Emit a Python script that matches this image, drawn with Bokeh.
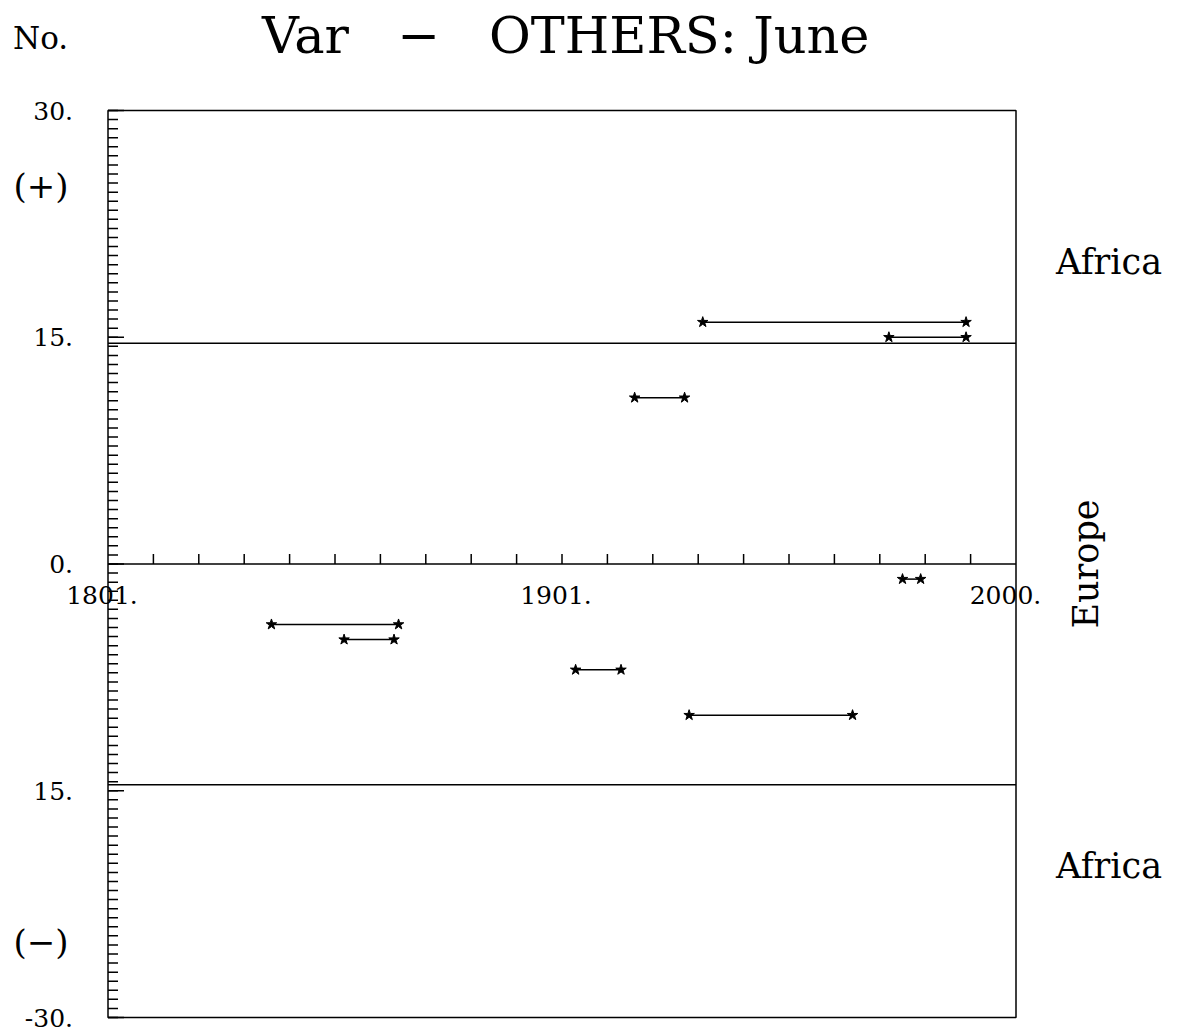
import numpy as np
from bokeh.plotting import figure
from bokeh.models import Range1d, Label, LabelSet, ColumnDataSource
from bokeh.core.properties import value
from bokeh.embed import file_html
from bokeh.resources import INLINE

# ---- data ----
seg_value = [16, 15, 11, -1, -4, -5, -7, -10]
seg_start = [1932, 1973, 1917, 1976, 1837, 1853, 1904, 1929]
seg_end = [1990, 1990, 1928, 1980, 1865, 1864, 1914, 1965]

year_first, year_last = 1801, 2001
x_tick_years = list(range(1811, 2000, 10))
x_label_years = [1801, 1901, 2000]
x_label_text = ["1801.", "1901.", "2000."]

y_low, y_high = -30, 30
y_ticks = [-30, -15, 0, 15, 30]
y_tick_labels = ["-30.", "15.", "0.", "15.", "30."]
y_minor_step = 0.6

boundary_values = [14.6, -14.6]
region_africa_values = [20, -20]
sign_labels = ["(+)", "(\u2212)"]
sign_values = [25, -25]

NB = "\u00a0"
title_text = "Var" + NB * 3 + "\u2212" + NB * 3 + "OTHERS: June"
unit_text = "No."

SERIF = "DejaVu Serif"

# ---- layout: plot box position in canvas pixels ----
W, H = 1170, 1032
BOX_L, BOX_R, BOX_T, BOX_B = 107.5, 1015.5, 110.0, 1017.0
ppx = (BOX_R - BOX_L) / (year_last - year_first)
ppy = (BOX_B - BOX_T) / (y_high - y_low)
x_range = Range1d(year_first - BOX_L / ppx, year_last + (W - BOX_R) / ppx)
y_range = Range1d(y_low - (H - BOX_B) / ppy, y_high + BOX_T / ppy)

p = figure(width=W, height=H, output_backend="svg", toolbar_location=None,
           x_range=x_range, y_range=y_range, x_axis_location=None, y_axis_location=None,
           title=None, min_border=0)
p.background_fill_color = "white"
p.border_fill_color = "white"
p.outline_line_color = None
p.grid.visible = False

BLACK = "black"
LW = 1.5

# plot box
p.quad(left=[year_first], right=[year_last], bottom=[y_low], top=[y_high],
       fill_color=None, line_color=BLACK, line_width=LW)

# y axis ticks (inside) and labels
minor = list(np.round(np.arange(y_low, y_high + 1e-9, y_minor_step), 3))
p.ray(x=[year_first] * len(minor), y=minor, length=10, length_units="screen",
      angle=0, line_color=BLACK, line_width=LW)
p.ray(x=[year_first] * len(y_ticks), y=y_ticks, length=16, length_units="screen",
      angle=0, line_color=BLACK, line_width=LW)
yl_src = ColumnDataSource(dict(x=[year_first] * len(y_ticks), y=y_ticks, text=y_tick_labels))
p.add_layout(LabelSet(x="x", y="y", text="text", source=yl_src, x_offset=-35,
                      text_align="right", text_baseline="middle",
                      text_font=value(SERIF), text_font_size="25px", text_color=BLACK))

# x axis along y = 0
p.segment(x0=[year_first], y0=[0], x1=[year_last], y1=[0], line_color=BLACK, line_width=LW)
p.ray(x=x_tick_years, y=[0] * len(x_tick_years), length=10, length_units="screen",
      angle=90, angle_units="deg", line_color=BLACK, line_width=LW)
xl_src = ColumnDataSource(dict(x=x_label_years, y=[0] * len(x_label_years), text=x_label_text))
p.add_layout(LabelSet(x="x", y="y", text="text", source=xl_src, x_offset=-6, y_offset=-22,
                      text_align="center", text_baseline="top",
                      text_font=value(SERIF), text_font_size="25px", text_color=BLACK))

# boundary lines
p.segment(x0=[year_first] * len(boundary_values), y0=boundary_values,
          x1=[year_last] * len(boundary_values), y1=boundary_values,
          line_color=BLACK, line_width=LW)

# segments with star ends
p.segment(x0=seg_start, y0=seg_value, x1=seg_end, y1=seg_value, line_color=BLACK, line_width=LW)
p.scatter(x=seg_start + seg_end, y=seg_value + seg_value, marker="star", size=11,
          fill_color=BLACK, line_color=BLACK)

# side labels
for v in region_africa_values:
    p.add_layout(Label(x=year_last, y=v, x_offset=40, text="Africa", text_align="left",
                       text_baseline="middle", text_font=SERIF, text_font_size="35px",
                       text_color=BLACK))
p.add_layout(Label(x=year_last, y=0, x_offset=70, text="Europe", angle=90, angle_units="deg",
                   text_align="center", text_baseline="middle", text_font=SERIF,
                   text_font_size="35px", text_color=BLACK))
for s, v in zip(sign_labels, sign_values):
    p.add_layout(Label(x=year_first, y=v, x_offset=-67, text=s, text_align="center",
                       text_baseline="middle", text_font=SERIF, text_font_size="34px",
                       text_color=BLACK))

# titles
p.add_layout(Label(x=year_first, y=y_high, x_offset=154, y_offset=75, text=title_text,
                   text_align="left", text_baseline="alphabetic", text_font=SERIF,
                   text_font_size="51px", text_color=BLACK))
p.add_layout(Label(x=year_first, y=y_high, x_offset=-95, y_offset=73, text=unit_text,
                   text_align="left", text_baseline="alphabetic", text_font=SERIF,
                   text_font_size="31px", text_color=BLACK))

open("out.html", "w").write(file_html(p, INLINE))
